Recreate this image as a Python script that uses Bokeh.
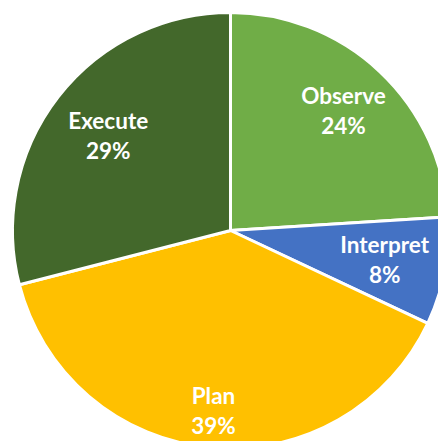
import math
from bokeh.plotting import figure
from bokeh.models import Range1d, ColumnDataSource
from bokeh.core.properties import value
from bokeh.embed import file_html
from bokeh.resources import INLINE

# Data (clockwise from 12 o'clock)
categories = ["Observe", "Interpret", "Plan", "Execute"]
shares = [24, 8, 39, 29]
colors = ["#70AD47", "#4472C4", "#FFC000", "#43682B"]
pct_labels = ["24%", "8%", "39%", "29%"]
label_radius_frac = [0.757, 0.72, 0.83, 0.71]

R = 218
total = sum(shares)
starts, ends, lx, ly = [], [], [], []
acc = 0.0
for s, f in zip(shares, label_radius_frac):
    a0 = math.pi / 2 - 2 * math.pi * acc / total
    acc += s
    a1 = math.pi / 2 - 2 * math.pi * acc / total
    starts.append(a0)
    ends.append(a1)
    mid = (a0 + a1) / 2
    lx.append(R * f * math.cos(mid))
    ly.append(R * f * math.sin(mid))

src = ColumnDataSource(dict(cat=categories, pct=pct_labels, start=starts, end=ends,
                            color=colors, lx=lx, ly=ly))

W, H = 438, 441
CX, CY = 230, 230
p = figure(width=W, height=H, output_backend="svg", toolbar_location=None,
           x_range=Range1d(-CX, W - CX), y_range=Range1d(CY - H, CY),
           min_border=0)
p.axis.visible = False
p.grid.visible = False
p.outline_line_color = None
p.background_fill_color = "white"
p.border_fill_color = "white"

p.wedge(x=0, y=0, radius=R, start_angle="start", end_angle="end", direction="clock",
        fill_color="color", line_color="white", line_width=3, source=src)

common = dict(text_color="white", text_font=value("Lato"), text_font_style="bold",
              text_font_size="22.5px", text_align="center", text_baseline="middle", source=src)
p.text(x="lx", y="ly", text="cat", y_offset=-15, **common)
p.text(x="lx", y="ly", text="pct", y_offset=15, **common)

open("out.html", "w").write(file_html(p, INLINE))
